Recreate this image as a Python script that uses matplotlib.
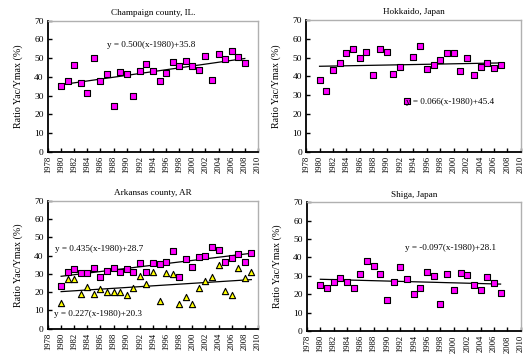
import matplotlib
matplotlib.use("Agg")
import matplotlib.pyplot as plt
import numpy as np

plt.rcParams['font.family'] = ['Liberation Serif', 'DejaVu Serif']

years_ch = list(range(1980, 2009))
ch = [34.9, 38.0, 46.2, 36.7, 31.4, 50.1, 38.0, 41.4, 24.6, 42.6, 41.7, 29.9, 43.1, 46.9,
      43.0, 37.8, 42.1, 47.9, 46.0, 48.5, 46.0, 43.7, 51.0, 38.5, 52.2, 49.7, 54.0, 50.4, 47.6]
ch_fit = (0.500, 35.8)

years_hk = list(range(1980, 2008))
hk = [38.1, 32.3, 43.3, 47.2, 52.5, 54.4, 50.0, 53.0, 41.0, 54.6, 52.8, 41.5, 45.2, 26.8,
      50.5, 56.2, 44.0, 46.1, 48.8, 52.3, 52.5, 42.7, 50.0, 40.8, 45.0, 47.2, 44.5, 45.9]
hk_fit = (0.066, 45.4)

years_ar = list(range(1980, 2010))
ar_sq = [23.4, 31.1, 32.9, 30.7, 30.5, 33.1, 28.2, 31.4, 33.1, 31.1, 32.7, 31.1, 36.2, 31.3,
         36.2, 35.5, 36.7, 42.6, 28.3, 38.4, 33.8, 39.1, 39.9, 44.6, 43.3, 36.7, 38.8, 40.8,
         36.7, 41.5]
ar_tri = [14.3, 27.2, 27.2, 19.2, 22.9, 18.8, 21.9, 20.3, 19.9, 20.1, 18.6, 22.5, 28.9, 24.7,
          30.9, 15.2, 30.3, 30.0, 13.5, 17.6, 13.7, 22.5, 26.3, 28.5, 34.9, 20.8, 18.5, 33.5,
          28.0, 31.3]
ar_sq_fit = (0.435, 28.7)
ar_tri_fit = (0.227, 20.3)

years_sh = list(range(1980, 2008))
sh = [24.9, 23.5, 26.5, 28.7, 26.5, 23.6, 31.0, 38.1, 35.2, 31.2, 17.0, 26.4, 34.7, 28.3,
      19.9, 23.1, 32.0, 30.0, 14.4, 30.9, 22.4, 31.6, 30.5, 24.9, 22.2, 29.4, 26.0, 20.9]
sh_fit = (-0.097, 28.1)

titles = ["Champaign county, IL.", "Hokkaido, Japan", "Arkansas county, AR", "Shiga, Japan"]
xticks = list(range(1978, 2011, 2))
yticks = list(range(0, 71, 10))

fig = plt.figure(figsize=(5.26, 3.54), dpi=100)
positions = [
    [0.0913, 0.5715, 0.399, 0.370],
    [0.582, 0.5715, 0.408, 0.372],
    [0.0913, 0.0715, 0.399, 0.361],
    [0.5837, 0.065, 0.406, 0.364],
]
axes = [fig.add_axes(p) for p in positions]

sq_kw = dict(marker='s', s=18, facecolor='#ff00ff', edgecolor='black', linewidths=0.8, zorder=3)
tri_kw = dict(marker='^', s=20, facecolor='#ffff00', edgecolor='black', linewidths=0.8, zorder=3)

FS = 6.6

def fit_line(ax, yrs, fit):
    x = np.array([yrs[0], yrs[-1]])
    ax.plot(x, fit[0] * (x - 1980) + fit[1], color='black', lw=0.9, zorder=2)

def style(ax, title):
    ax.set_xlim(1978, 2010)
    ax.set_ylim(0, 70)
    ax.set_xticks(xticks)
    ax.set_xticklabels([str(t) for t in xticks], rotation=90, fontsize=6.2)
    ax.set_yticks(yticks)
    ax.set_yticklabels([str(t) for t in yticks], fontsize=6.8)
    ax.tick_params(direction='in', length=3, width=1, pad=3)
    for s in ['left', 'bottom']:
        ax.spines[s].set_linewidth(1.3)
        ax.spines[s].set_color('black')
    for s in ['top', 'right']:
        ax.spines[s].set_linewidth(1.0)
        ax.spines[s].set_color('#b0b0b0')
    ax.set_title(title, fontsize=FS, pad=4)
    ax.set_ylabel("Ratio Yac/Ymax (%)", fontsize=7.2, labelpad=8)

ax = axes[0]
ax.scatter(years_ch, ch, **sq_kw)
fit_line(ax, years_ch, ch_fit)
ax.text(1993.7, 57, "y = 0.500(x-1980)+35.8", fontsize=FS, ha='center', va='center')
style(ax, titles[0])

ax = axes[1]
ax.scatter(years_hk, hk, **sq_kw)
fit_line(ax, years_hk, hk_fit)
ax.text(1999.5, 26.6, "y = 0.066(x-1980)+45.4", fontsize=FS, ha='center', va='center')
style(ax, titles[1])

ax = axes[2]
ax.scatter(years_ar, ar_sq, **sq_kw)
ax.scatter(years_ar, ar_tri, **tri_kw)
fit_line(ax, years_ar, ar_sq_fit)
fit_line(ax, years_ar, ar_tri_fit)
ax.text(1985.8, 43.5, "y = 0.435(x-1980)+28.7", fontsize=FS, ha='center', va='center')
ax.text(1985.6, 7.9, "y = 0.227(x-1980)+20.3", fontsize=FS, ha='center', va='center')
style(ax, titles[2])

ax = axes[3]
ax.scatter(years_sh, sh, **sq_kw)
fit_line(ax, years_sh, sh_fit)
ax.text(1999.5, 45, "y = -0.097(x-1980)+28.1", fontsize=FS, ha='center', va='center')
style(ax, titles[3])

fig.savefig("out.png", dpi=100)
